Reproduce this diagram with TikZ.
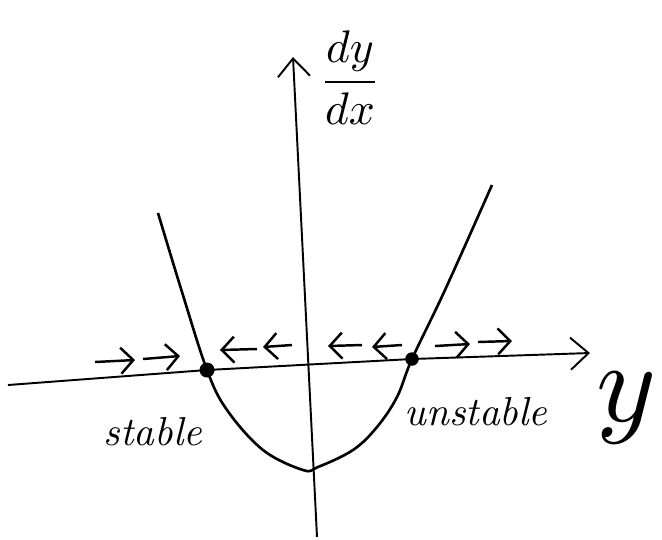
\documentclass[tikz,border=0pt]{standalone}
\usetikzlibrary{arrows.meta}

\begin{document}
\begin{tikzpicture}[
    x=0.02cm, y=-0.02cm,
    axis/.style={line width=1.1pt, -{Straight Barb[length=3.6mm, width=6.4mm, line width=1.1pt]}},
    flow/.style={line width=1.4pt, -{Straight Barb[length=2.5mm, width=5.2mm, line width=1.4pt]}},
    curve/.style={line width=1.5pt, line join=round},
    equil/.style={circle, fill=black, inner sep=0pt, minimum size=0.3cm},
    lbl/.style={font=\itshape, scale=2.3}
]
\useasboundingbox (0,0) rectangle (662,539);

% Equilibrium points
\node[equil] (stable) at (207,370) {};
\node[equil, minimum size=0.27cm] (unstable) at (412,359) {};

% Axes
\coordinate (yleft) at (8,385);
\coordinate (yright) at (590,353);
\coordinate (vbottom) at (317,537);
\coordinate (vtop) at (293,57);
\draw[axis] (yleft) -- (stable.center) -- (unstable.center) -- (yright);
\draw[axis] (vbottom) -- (vtop);

% Parabola dy/dx as a function of y
\draw[curve] plot[smooth, tension=0.6] coordinates {(158,213) (182,292) (207,370) (227,410)
    (263,450) (303,470) (318,467) (353,450) (377,427) (397,397) (412,359) (445,290) (492,185)};

% Flow on the phase line
\draw[flow] (95,362) -- (135,360);
\draw[flow] (143,359) -- (180,356);
\draw[flow] (257,349) -- (220,350);
\draw[flow] (292,345) -- (263,347);
\draw[flow] (362,345) -- (328,346);
\draw[flow] (402,345) -- (372,347);
\draw[flow] (435,346) -- (470,344);
\draw[flow] (478,342) -- (512,341);

% Labels
\node[scale=2.6] (dydx) at (350,78) {$\displaystyle\frac{dy}{dx}$};
\node[scale=6.5] (ylabel) at (627,408) {$y$};
\node[lbl] (stablelbl) at (153,432) {stable};
\node[lbl] (unstablelbl) at (476,412) {unstable};

\end{tikzpicture}
\end{document}
